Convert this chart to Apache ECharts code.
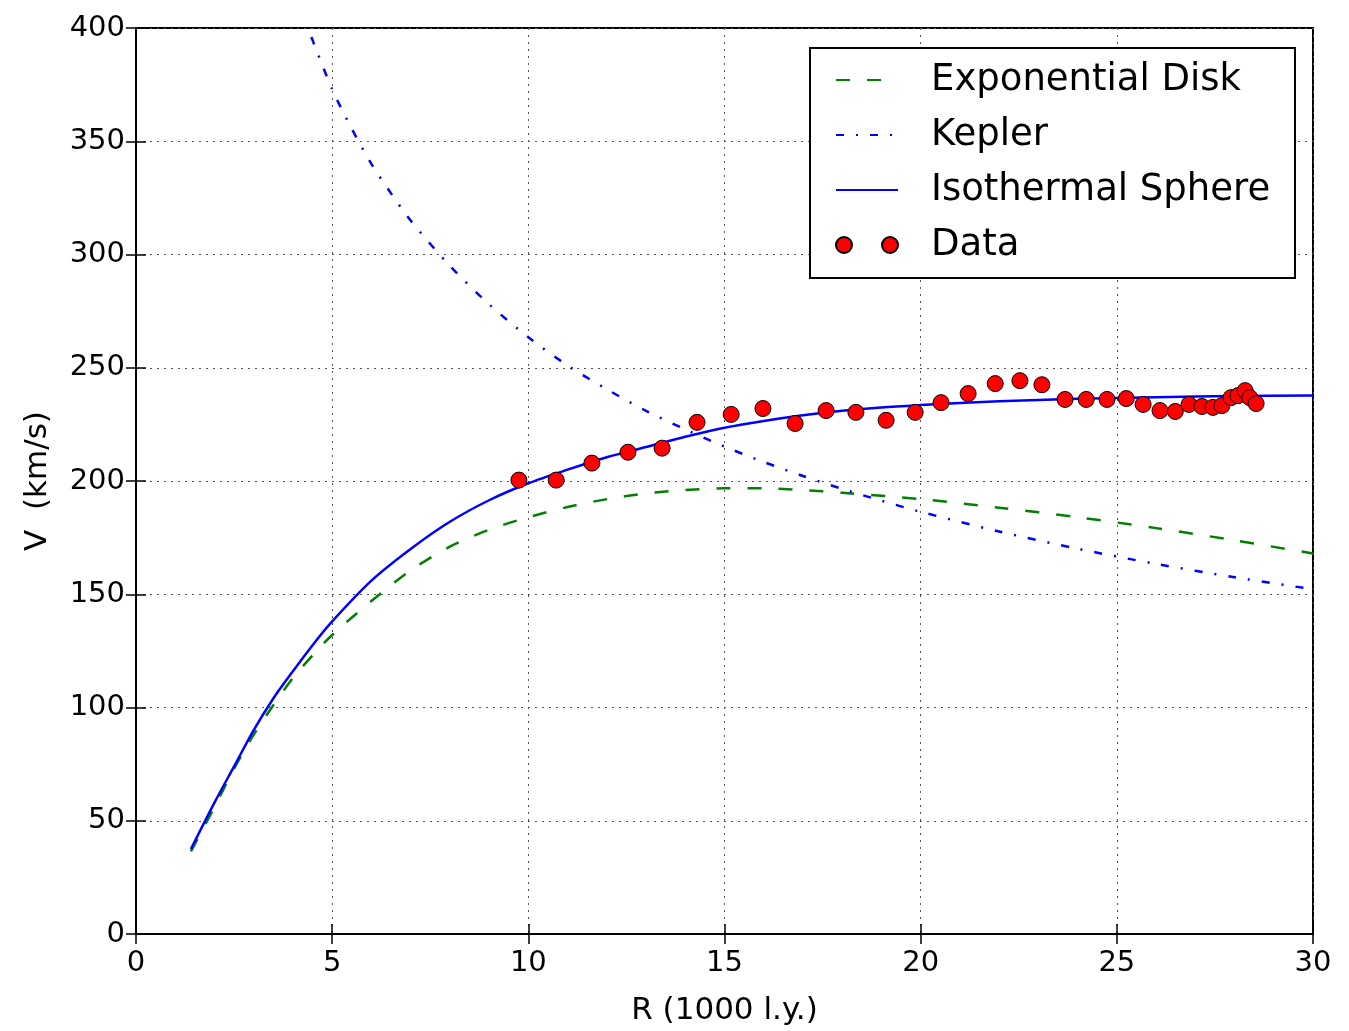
<!DOCTYPE html>
<html>
<head>
<meta charset="utf-8">
<title>Rotation curve</title>
<script src="https://cdn.jsdelivr.net/npm/echarts@6/dist/echarts.min.js"></script>
<style>
  html, body { margin: 0; padding: 0; background: #fff; }
  #chart { width: 1349px; height: 1031px; }
</style>
</head>
<body>
<div id="chart"></div>
<script>
// values: R in 1000 l.y., V in km/s
const diskR = [1.4, 2, 2.5, 3, 3.5, 4, 4.5, 5, 6, 7, 8, 9, 10, 11, 12, 13, 14, 15, 16, 17, 18, 20, 22, 24, 26, 28, 30];
const diskV = [36.5, 56, 73, 88, 101, 113, 123, 132, 147, 160.5, 171, 178.5, 184, 188.5, 192, 194.5, 196, 196.8, 196.8, 196, 194.8, 192, 188.2, 184, 179.2, 173.8, 168];

const keplerR = [4.47, 5, 5.5, 6, 6.5, 7, 8, 9, 10, 11, 12, 13, 14, 15, 16, 17, 18, 19, 20, 22, 24, 26, 28, 30];
const keplerV = [396, 373, 355.5, 340, 327, 315, 295, 278, 263.5, 251, 240.5, 231, 222.8, 215.2, 208.4, 202.2, 196.5, 191.3, 186.4, 177.7, 170.1, 163.4, 157.5, 152.2];

const isoR = [1.4, 2, 2.5, 3, 3.5, 4, 4.5, 5, 6, 7, 8, 9, 10, 11, 12, 13, 14, 15, 16, 17, 18, 19, 20, 22, 24, 26, 28, 30];
const isoV = [37.5, 58, 74, 90, 104, 116, 127.5, 138, 156, 170, 182, 191.5, 199, 205, 210.5, 215, 219.5, 223.5, 226.5, 229, 231, 232.5, 233.5, 235.2, 236.3, 237, 237.5, 237.8];

const dataR = [9.76, 10.71, 11.62, 12.54, 13.41, 14.30, 15.17, 15.98, 16.80, 17.59, 18.35, 19.12, 19.86, 20.52, 21.21, 21.90, 22.53, 23.09, 23.68, 24.22, 24.75, 25.24, 25.67, 26.10, 26.49, 26.84, 27.17, 27.45, 27.68, 27.91, 28.09, 28.27, 28.39, 28.55];
const dataV = [200.4, 200.4, 207.9, 212.7, 214.5, 225.9, 229.4, 232.0, 225.4, 231.1, 230.3, 226.8, 230.3, 234.6, 238.6, 243.0, 244.3, 242.5, 236.0, 236.0, 236.0, 236.4, 233.8, 231.1, 230.7, 233.8, 232.9, 232.5, 233.3, 236.8, 237.7, 239.9, 236.8, 234.2];

const xTicks = [0, 5, 10, 15, 20, 25, 30];
const yTicks = [0, 50, 100, 150, 200, 250, 300, 350, 400];

const font = 'DejaVu Sans';

function pairs(xs, ys) {
  return xs.map((x, i) => [x, ys[i]]);
}

const chart = echarts.init(document.getElementById('chart'), null, {renderer: 'canvas'});

const gridLine = { show: true, lineStyle: { color: '#555', width: 1, type: [2, 5] } };
const tickStyle = { show: true, inside: true, length: 10, lineStyle: { color: '#000', width: 1.5 } };
// hide the little marker ECharts puts on line legend icons
const noMarker = { opacity: 0 };

var option = {
  backgroundColor: '#fff',
  animation: false,
  grid: {
    left: 136, right: 36, top: 28, bottom: 91,
    show: true, borderColor: '#000', borderWidth: 2, backgroundColor: 'transparent'
  },
  graphic: [{
    type: 'rect',
    z: 3,
    shape: { x: 810, y: 48, width: 485, height: 230 },
    style: { fill: '#fff', stroke: '#000', lineWidth: 2 }
  }],
  legend: {
    orient: 'vertical',
    left: 835, top: 60,
    z: 5,
    itemWidth: 62, itemHeight: 16,
    itemGap: 15,
    padding: 0,
    textStyle: { fontFamily: font, fontSize: 37, color: '#000', lineHeight: 40, padding: [0, 0, 0, 28] },
    data: [
      { name: 'Exponential Disk', itemStyle: noMarker },
      { name: 'Kepler', itemStyle: noMarker },
      { name: 'Isothermal Sphere', itemStyle: noMarker },
      { name: 'Data', icon: 'path://M0,8a8,8 0 1,0 16,0a8,8 0 1,0 -16,0zM46,8a8,8 0 1,0 16,0a8,8 0 1,0 -16,0z' }
    ]
  },
  xAxis: [
    {
      type: 'value', min: xTicks[0], max: xTicks[xTicks.length - 1], interval: 5,
      name: 'R (1000 l.y.)', nameLocation: 'middle', nameGap: 61,
      nameTextStyle: { fontFamily: font, fontSize: 31, color: '#000' },
      axisLine: { show: true, lineStyle: { color: '#000', width: 2 } },
      axisTick: tickStyle,
      axisLabel: { fontFamily: font, fontSize: 29, color: '#000', margin: 15 },
      splitLine: gridLine
    },
    {
      type: 'value', position: 'top', min: xTicks[0], max: xTicks[xTicks.length - 1], interval: 5,
      axisLine: { show: false }, axisTick: tickStyle, axisLabel: { show: false }, splitLine: { show: false }
    }
  ],
  yAxis: [
    {
      type: 'value', min: yTicks[0], max: yTicks[yTicks.length - 1], interval: 50,
      name: 'V  (km/s)', nameLocation: 'middle', nameGap: 83, nameRotate: 90,
      nameTextStyle: { fontFamily: font, fontSize: 31, color: '#000' },
      axisLine: { show: true, lineStyle: { color: '#000', width: 2 } },
      axisTick: tickStyle,
      axisLabel: { fontFamily: font, fontSize: 29, color: '#000', margin: 11 },
      splitLine: gridLine
    },
    {
      type: 'value', position: 'right', min: yTicks[0], max: yTicks[yTicks.length - 1], interval: 50,
      axisLine: { show: false }, axisTick: tickStyle, axisLabel: { show: false }, splitLine: { show: false }
    }
  ],
  series: [
    {
      name: 'Exponential Disk',
      type: 'line',
      smooth: 0.3,
      symbol: 'none',
      z: 2,
      itemStyle: { color: '#008000' },
      lineStyle: { color: '#008000', width: 2.5, type: [14, 17] },
      data: pairs(diskR, diskV)
    },
    {
      name: 'Kepler',
      type: 'line',
      smooth: 0.3,
      symbol: 'none',
      z: 2,
      itemStyle: { color: '#0000ff' },
      lineStyle: { color: '#0000ff', width: 2.5, type: [8, 12, 2, 12] },
      data: pairs(keplerR, keplerV)
    },
    {
      name: 'Isothermal Sphere',
      type: 'line',
      smooth: 0.3,
      symbol: 'none',
      z: 2,
      itemStyle: { color: '#0000ff' },
      lineStyle: { color: '#0000ff', width: 2.5 },
      data: pairs(isoR, isoV)
    },
    {
      name: 'Data',
      type: 'scatter',
      symbol: 'circle',
      symbolSize: 16,
      z: 3,
      itemStyle: { color: '#ff0000', opacity: 1, borderColor: '#000', borderWidth: 1 },
      data: pairs(dataR, dataV)
    }
  ]
};

chart.setOption(option);
</script>
</body>
</html>
